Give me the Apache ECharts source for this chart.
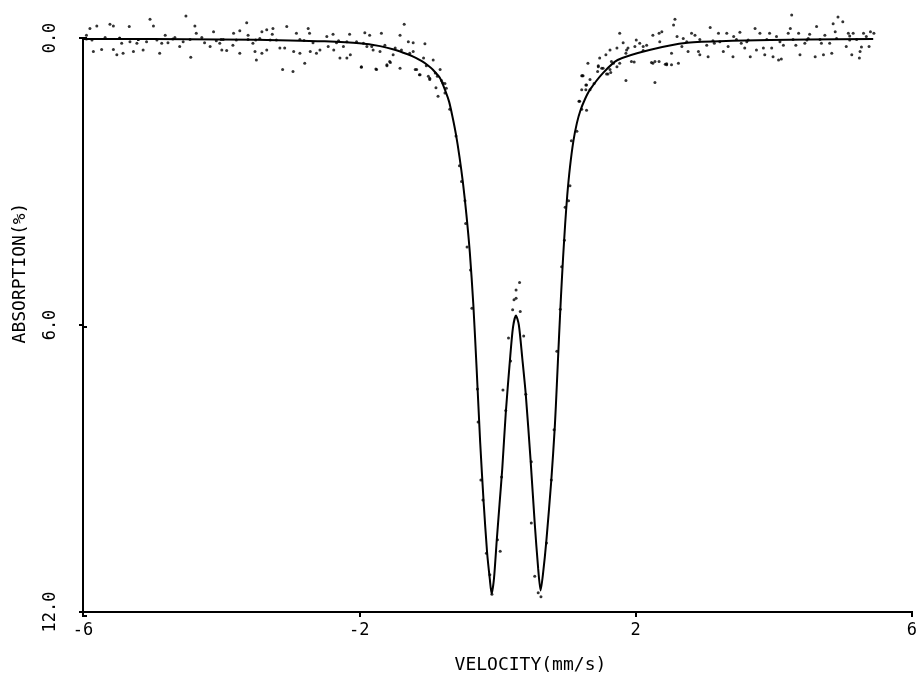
<!DOCTYPE html>
<html>
<head>
<meta charset="utf-8">
<script src="https://cdn.jsdelivr.net/npm/echarts@6/dist/echarts.min.js"></script>
<style>
  html, body { margin: 0; padding: 0; background: #fff; }
  #spec { width: 920px; height: 679px; }
</style>
</head>
<body>
<div id="spec"></div>
<script>
// velocity (mm/s) / absorption (%)
const xTicks = [-6, -2, 2, 6]
const yTicks = ['0.0', '6.0', '12.0']

// fitted curve
const fitX = [-6.0, -5.0, -4.0, -3.0, -2.5, -2.0, -1.7, -1.5, -1.3, -1.22, -1.1, -1.0, -0.93, -0.83, -0.75, -0.7,
  -0.65, -0.6, -0.55, -0.5, -0.45, -0.4, -0.35, -0.3, -0.25, -0.2, -0.15, -0.11, -0.084, -0.05, -0.01, 0.03, 0.07,
  0.12, 0.18, 0.225, 0.268, 0.31, 0.36, 0.41, 0.48, 0.54, 0.59, 0.625, 0.66, 0.71, 0.78, 0.83, 0.86, 0.89, 0.92,
  0.95, 0.98, 1.01, 1.05, 1.1, 1.15, 1.2, 1.27, 1.34, 1.53, 1.74, 2.2, 2.75, 3.4, 4.5, 5.44]
const fitY = [0.02, 0.02, 0.03, 0.05, 0.07, 0.11, 0.17, 0.24, 0.34, 0.39, 0.48, 0.58, 0.67, 0.84, 1.12, 1.33,
  1.65, 2.02, 2.48, 3.02, 3.68, 4.48, 5.55, 6.95, 8.45, 9.7, 10.75, 11.32, 11.62, 11.3, 10.5, 9.75, 9.0,
  7.85, 6.75, 6.05, 5.8, 6.0, 6.7, 7.45, 8.83, 10.15, 11.1, 11.55, 11.2, 10.48, 9.24, 8.14, 7.25, 6.3, 5.4,
  4.6, 3.9, 3.3, 2.7, 2.15, 1.78, 1.52, 1.27, 1.08, 0.73, 0.46, 0.25, 0.1, 0.06, 0.03, 0.02]

// measured points
const ptX = [-5.95, -5.9, -5.85, -5.8, -5.73, -5.61, -5.56, -5.56, -5.51, -5.47, -5.44, -5.42, -5.33, -5.32, -5.27,
  -5.22, -5.2, -5.13, -5.08, -5.03, -4.98, -4.89, -4.86, -4.77, -4.7, -4.6, -4.55, -4.51, -4.44, -4.38, -4.36, -4.24,
  -4.16, -4.11, -4.02, -4.0, -3.99, -3.92, -3.83, -3.82, -3.73, -3.73, -3.63, -3.61, -3.54, -3.51, -3.5, -3.49, -3.41,
  -3.41, -3.34, -3.34, -3.26, -3.25, -3.15, -3.11, -3.08, -3.05, -2.96, -2.95, -2.91, -2.86, -2.8, -2.79, -2.74,
  -2.72, -2.71, -2.62, -2.57, -2.47, -2.45, -2.38, -2.37, -2.3, -2.28, -2.23, -2.18, -2.14, -2.13, -2.04, -1.97,
  -1.97, -1.92, -1.89, -1.85, -1.8, -1.76, -1.75, -1.7, -1.68, -1.6, -1.6, -1.56, -1.55, -1.51, -1.41, -1.39, -1.35,
  -1.29, -1.27, -1.22, -1.22, -1.19, -1.17, -1.13, -1.12, -1.07, -1.05, -1.03, -1.0, -0.98, -0.93, -0.9, -0.89,
  -0.87, -0.83, -0.81, -0.79, -0.76, -0.74, -0.69, -0.6, -0.55, -0.52, -0.47, -0.46, -0.44, -0.39, -0.37, -0.29,
  -0.28, -0.24, -0.21, -0.16, -0.11, -0.08, 0.0, 0.04, 0.06, 0.08, 0.12, 0.16, 0.19, 0.22, 0.24, 0.27, 0.27, 0.32,
  0.33, 0.38, 0.41, 0.49, 0.49, 0.54, 0.59, 0.63, 0.71, 0.78, 0.82, 0.86, 0.91, 0.93, 0.97, 0.98, 1.03, 1.05, 1.07,
  1.15, 1.18, 1.19, 1.22, 1.22, 1.22, 1.23, 1.28, 1.28, 1.29, 1.29, 1.34, 1.34, 1.4, 1.45, 1.46, 1.46, 1.51, 1.53,
  1.57, 1.58, 1.6, 1.63, 1.64, 1.65, 1.68, 1.73, 1.73, 1.77, 1.77, 1.82, 1.86, 1.86, 1.89, 1.94, 1.98, 1.99, 2.01,
  2.06, 2.11, 2.16, 2.23, 2.25, 2.25, 2.28, 2.28, 2.34, 2.34, 2.38, 2.43, 2.45, 2.45, 2.52, 2.52, 2.55, 2.57, 2.6,
  2.62, 2.67, 2.69, 2.76, 2.81, 2.86, 2.91, 2.93, 3.03, 3.05, 3.08, 3.14, 3.2, 3.27, 3.32, 3.34, 3.41, 3.42, 3.51,
  3.53, 3.58, 3.61, 3.66, 3.73, 3.75, 3.8, 3.85, 3.87, 3.94, 3.97, 3.99, 4.04, 4.07, 4.11, 4.14, 4.21, 4.24, 4.26,
  4.32, 4.36, 4.38, 4.45, 4.5, 4.52, 4.6, 4.62, 4.69, 4.72, 4.74, 4.81, 4.84, 4.86, 4.89, 4.93, 5.0, 5.05, 5.08,
  5.1, 5.13, 5.15, 5.24, 5.25, 5.27, 5.3, 5.34, 5.38, 5.4, 5.45,
  // points sitting on or next to the line
  -5.95, -5.87, -5.68, -5.47, -5.2, -4.93, -4.81, -4.67, -4.45, -4.28, -4.07, -3.97, -3.78, -3.61, -3.44, -3.29,
  -3.2, -2.86, -2.67, -2.33, -2.18, -1.94, -1.82, -1.63, -1.48, -1.41, -0.98, -0.86, -0.76,
  1.24, 1.31, 1.48, 1.63, 1.87, 2.11, 2.35, 2.74, 2.93, 3.12, 3.22, 3.46, 3.63, 3.9, 4.09, 4.28, 4.48, 4.67,
  4.91, 5.1, 5.2, 5.42]
const ptY = [0.02, -0.2, 0.28, -0.25, 0.24, -0.29, -0.25, 0.24, 0.35, 0.0, 0.11, 0.32, -0.24, 0.08, 0.28,
  0.11, 0.03, 0.25, 0.08, -0.39, -0.25, 0.32, 0.11, 0.1, 0.02, 0.18, 0.08, -0.46, 0.4, -0.25, -0.1, 0.1,
  0.18, -0.13, 0.11, 0.03, 0.25, 0.26, 0.15, -0.1, -0.15, 0.32, -0.32, -0.06, 0.11, 0.28, 0.04, 0.46, -0.13,
  0.32, -0.17, 0.25, -0.08, -0.2, 0.21, 0.66, 0.21, -0.24, 0.7, 0.28, -0.1, 0.32, 0.05, 0.53, -0.2,
  -0.1, 0.28, 0.32, 0.25, -0.03, 0.18, -0.08, 0.25, 0.06, 0.42, 0.18, 0.42, -0.08, 0.35, 0.08, 0.6,
  0.61, -0.11, 0.18, -0.06, 0.25, 0.65, 0.66, 0.28, -0.1, 0.56, 0.58, 0.49, 0.51, 0.35, -0.06, 0.25, -0.29,
  0.08, 0.32, 0.1, 0.28, 0.66, 0.66, 0.77, 0.77, 0.42, 0.12, 0.58, 0.8, 0.84, 0.46, 0.73, 1.04,
  0.8, 0.66, 0.89, 0.94, 0.95, 1.05, 1.49, 2.05, 2.67, 3.0, 3.4, 3.88, 4.37, 4.85, 5.65, 7.34,
  8.03, 9.24, 9.66, 10.77, 11.22, 11.63, 10.49, 10.73, 9.18, 7.36, 7.79, 6.27, 6.75, 5.68, 5.47, 5.44, 5.27, 5.11,
  5.72, 6.23, 7.45, 8.86, 10.14, 11.25, 11.6, 11.68, 10.56, 9.24, 8.19, 6.55, 5.67, 4.78, 4.23, 3.54, 3.4, 3.09, 2.15,
  1.95, 1.32, 1.32, 1.49, 1.08, 0.79, 0.79, 1.08, 0.98, 0.98, 1.51, 1.08, 0.87, 0.95, 0.7, 0.58, 0.6, 0.63,
  0.63, 0.35, 0.75, 0.75, 0.66, 0.72, 0.49, 0.53, 0.21, 0.6, 0.53, -0.1, 0.1, 0.89, 0.32, 0.21, 0.49, 0.5, 0.18,
  0.04, 0.11, 0.26, 0.15, 0.51, 0.53, -0.06, 0.93, 0.49, 0.49, -0.1, -0.13, 0.55, 0.54, 0.56, 0.56, 0.32, -0.27, -0.39,
  -0.03, 0.53, 0.18, 0.01, 0.28, -0.1, -0.06, 0.28, 0.35, 0.15, 0.39, -0.22, 0.11, -0.1, 0.28, -0.1, 0.18, 0.39, -0.03,
  -0.12, 0.11, 0.21, 0.08, 0.39, -0.2, 0.25, -0.1, 0.21, 0.35, -0.1, 0.21, 0.39, -0.03, 0.46, 0.44, 0.15, -0.1, -0.2,
  -0.48, 0.15, -0.1, 0.35, 0.11, 0.01, -0.08, 0.39, -0.24, 0.11, 0.35, -0.06, 0.11, 0.32, -0.3, -0.13, -0.44, -0.34, 0.18,
  -0.1, -0.04, 0.35, -0.1, 0.42, 0.28, 0.19, -0.1, -0.03, 0.18, -0.13,
  -0.1, -0.06, 0.04, -0.01, 0.01, 0.03, 0.04, -0.06, -0.01, 0.03, -0.01, 0.06, 0.03, 0.04, 0.03, 0.01,
  0.04, 0.04, 0.03, 0.1, 0.1, 0.08, 0.11, 0.18, 0.15, 0.21, 0.63, 0.87, 1.22,
  1.15, 0.79, 0.53, 0.42, 0.25, 0.25, 0.18, 0.08, 0.08, 0.03, 0.06, 0.08, 0.03, 0.04, 0.03, 0.08, 0.03, 0.04,
  0.03, 0.01, 0.04, 0.03]

const fitData = fitX.map((v, i) => [v, fitY[i]])
const ptData = ptX.map((v, i) => [v, ptY[i]])

const plotFont = '"DejaVu Sans Mono", monospace'
const plotBox = { left: 83, right: 8, top: 38, bottom: 63, containLabel: false }

let option = {
  animation: false,
  backgroundColor: '#fff',
  // grid 1 only carries the inner half of the crossing tick marks
  grid: [plotBox, plotBox],
  xAxis: [
    {
      type: 'value',
      min: -6,
      max: 6,
      interval: 4,
      name: 'VELOCITY(mm/s)',
      nameLocation: 'middle',
      nameGap: 44,
      // the plotter put the title a bit right of centre
      nameTextStyle: { color: '#000', fontFamily: plotFont, fontSize: 18, padding: [0, 0, 0, 66] },
      axisLine: { show: true, onZero: false, lineStyle: { color: '#000', width: 2 } },
      axisTick: { show: true, length: 5, lineStyle: { color: '#000', width: 2 } },
      axisLabel: {
        color: '#000',
        fontFamily: plotFont,
        fontSize: 17,
        margin: 10,
        formatter: (v) => (xTicks.includes(v) ? String(v) : ''),
      },
      splitLine: { show: false },
    },
    {
      gridIndex: 1,
      type: 'value',
      position: 'bottom',
      min: -6,
      max: 6,
      interval: 4,
      axisLine: { show: false, onZero: false },
      axisTick: { show: true, inside: true, length: 5, lineStyle: { color: '#000', width: 2 } },
      axisLabel: { show: false },
      splitLine: { show: false },
    },
  ],
  yAxis: [
    {
      type: 'value',
      inverse: true,
      min: 0,
      max: 12,
      interval: 6,
      name: 'ABSORPTION(%)',
      nameLocation: 'middle',
      nameRotate: 90,
      nameGap: 54,
      // shifted upward like the original
      nameTextStyle: { color: '#000', fontFamily: plotFont, fontSize: 18, padding: [0, 0, 0, 104] },
      axisLine: { show: true, onZero: false, lineStyle: { color: '#000', width: 2 } },
      axisTick: { show: true, length: 4, lineStyle: { color: '#000', width: 2 } },
      axisLabel: {
        color: '#000',
        fontFamily: plotFont,
        fontSize: 17,
        rotate: 90,
        margin: 24,
        formatter: (v) => yTicks[Math.round(v / 6)],
      },
      splitLine: { show: false },
    },
    {
      gridIndex: 1,
      type: 'value',
      inverse: true,
      position: 'left',
      min: 0,
      max: 12,
      interval: 6,
      axisLine: { show: false, onZero: false },
      axisTick: { show: true, inside: true, length: 4, lineStyle: { color: '#000', width: 2 } },
      axisLabel: { show: false },
      splitLine: { show: false },
    },
  ],
  series: [
    {
      name: 'fit',
      type: 'line',
      data: fitData,
      smooth: 0.25,
      showSymbol: false,
      clip: false,
      lineStyle: { color: '#000', width: 2 },
      z: 3,
    },
    {
      name: 'data',
      type: 'scatter',
      data: ptData,
      symbol: 'circle',
      symbolSize: 3,
      clip: false,
      itemStyle: { color: '#000' },
      z: 4,
    },
  ],
}

let myChart = echarts.init(document.getElementById('spec'), null, { renderer: 'canvas' })
myChart.setOption(option)
</script>
</body>
</html>
